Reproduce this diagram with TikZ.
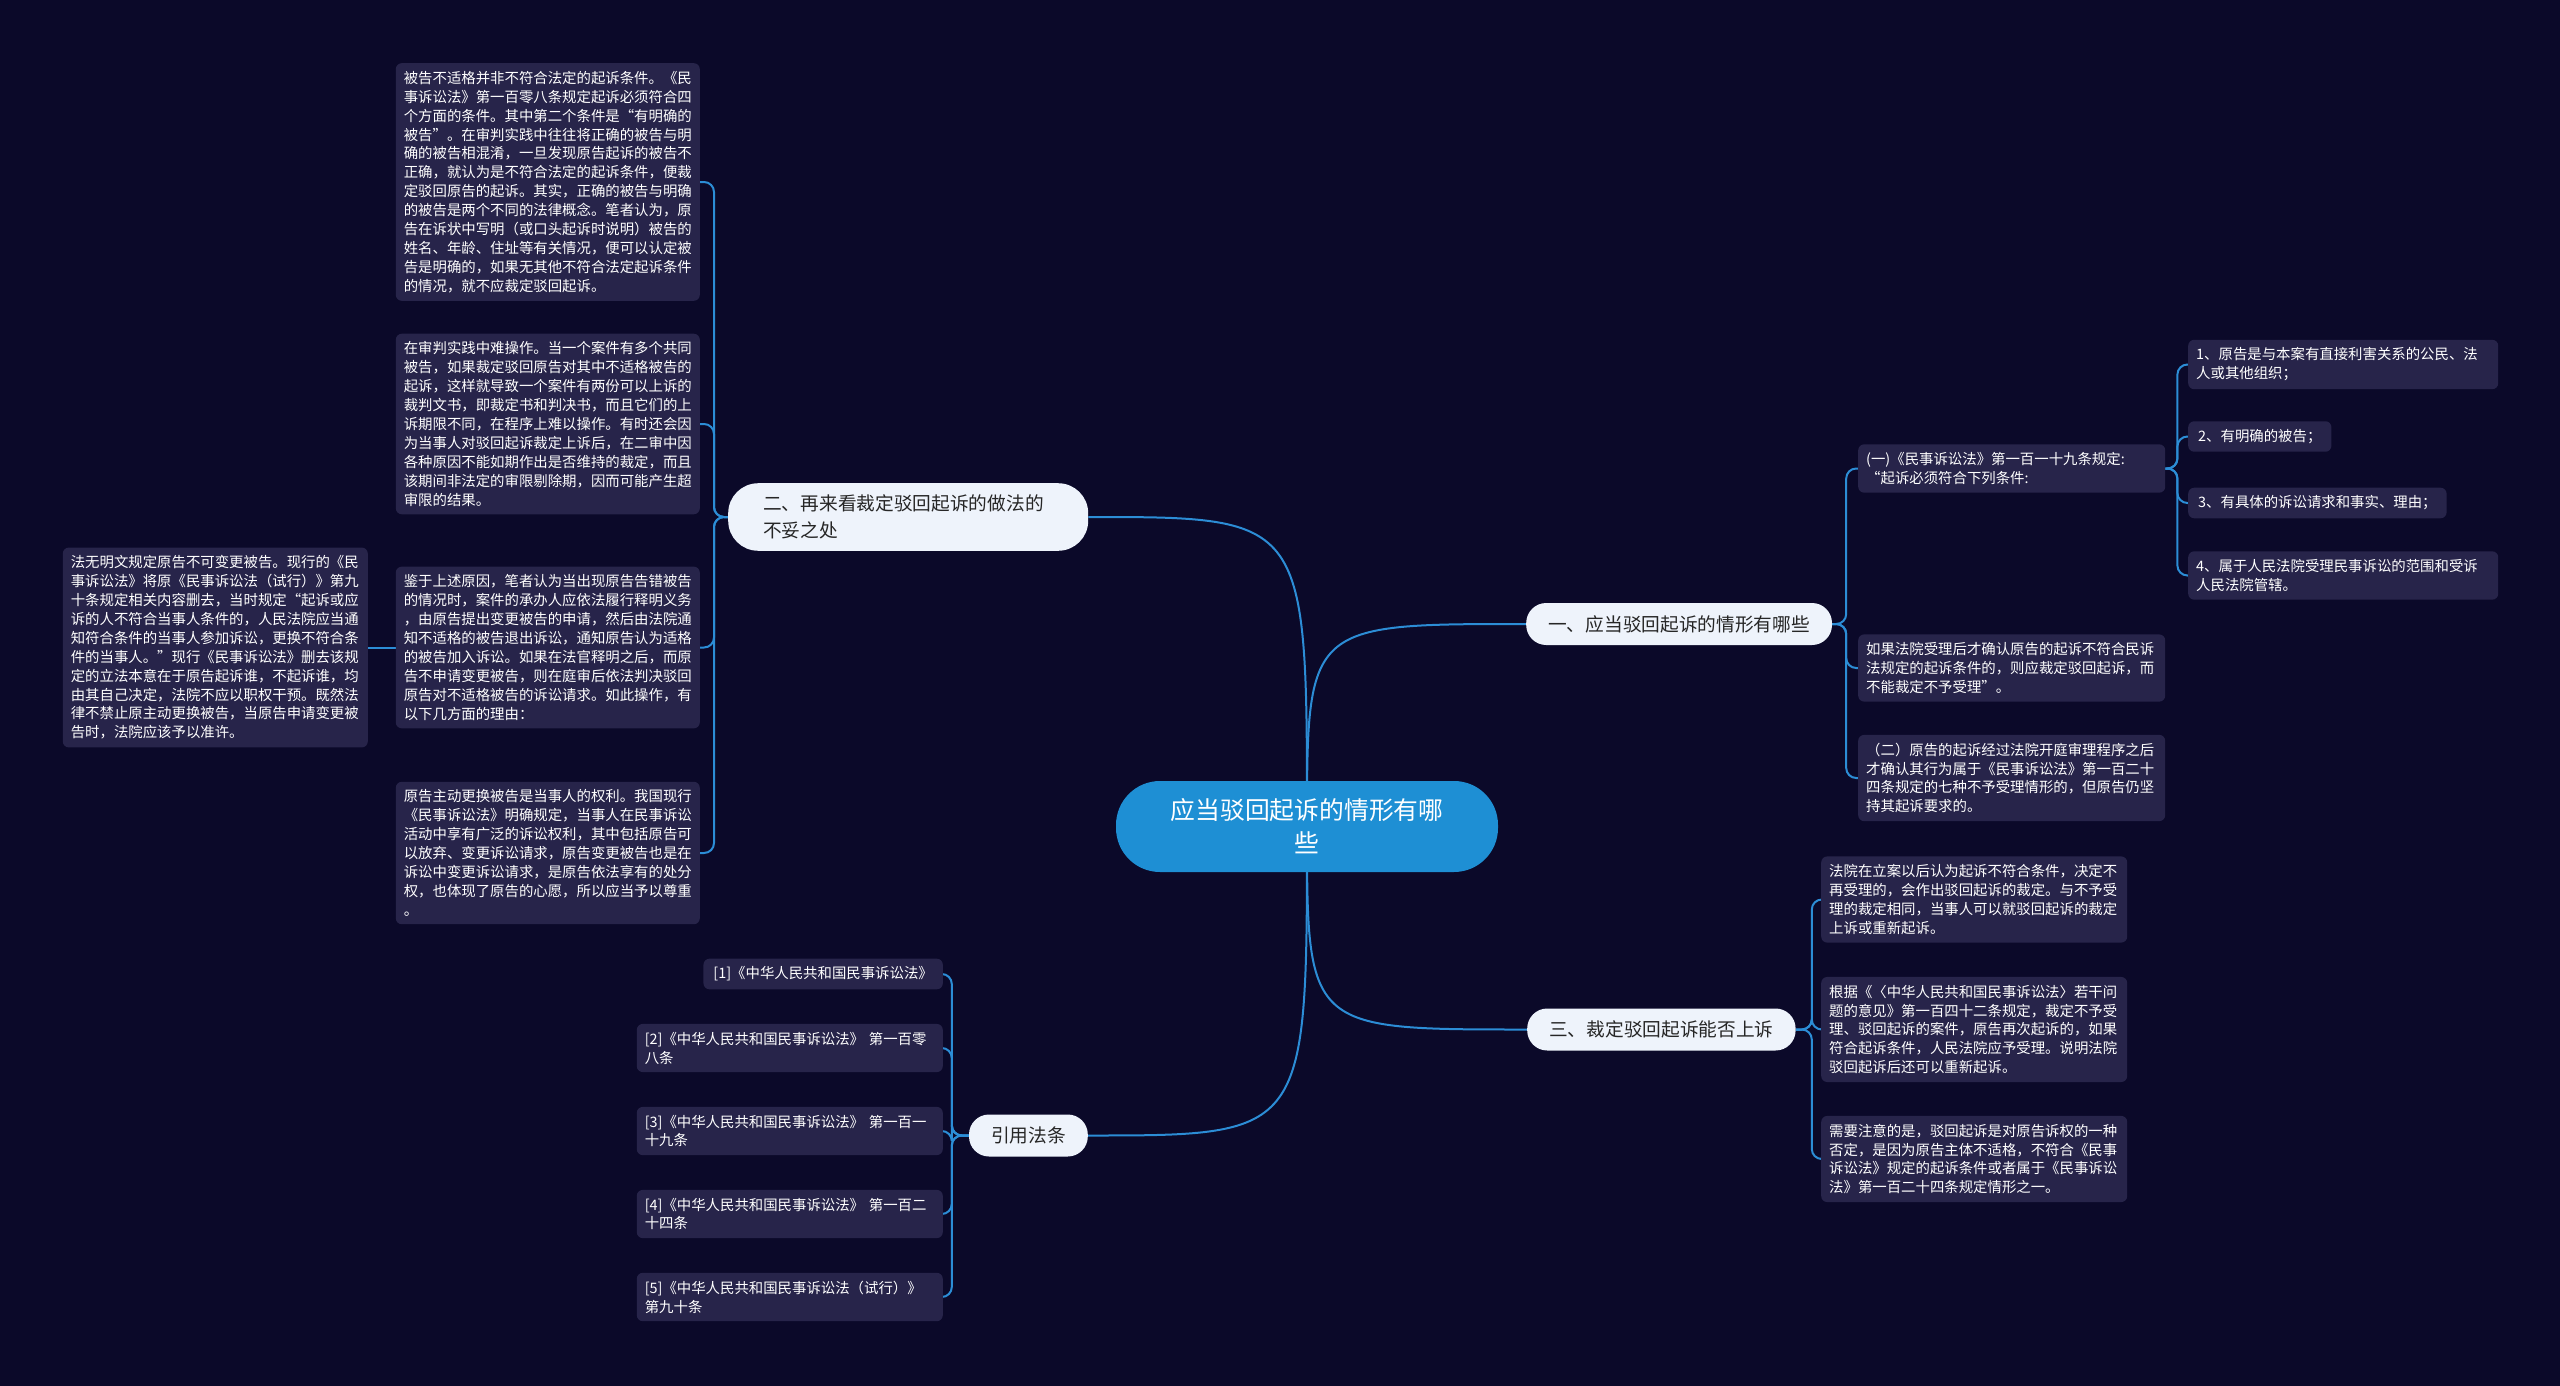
\documentclass[tikz,border=0pt]{standalone}
\usepackage{fontspec}
\usepackage{tikz}
\usetikzlibrary{backgrounds}
\newfontfamily\cjkfont{Noto Sans CJK SC}
\definecolor{bgnavy}{HTML}{0B0929}
\definecolor{leafbg}{HTML}{27244A}
\definecolor{topicbg}{HTML}{EEF3FB}
\definecolor{rootbg}{HTML}{1E8FD4}
\definecolor{linkblue}{HTML}{2C8DD6}

\begin{document}
\begin{tikzpicture}[x=1pt,y=-1pt,
	link/.style={draw=linkblue, line width=2pt, rounded corners=10pt},
	root/.style={fill=rootbg, text=white, rounded corners=44pt, minimum height=91pt, minimum width=382pt, inner ysep=0pt, align=center, font=\cjkfont\fontsize{24.8}{33}\selectfont},
	topic/.style={fill=topicbg, text=black!85, rounded corners=20pt, minimum height=42pt, inner xsep=22pt, inner ysep=11.6pt, align=left, font=\cjkfont\fontsize{18.7}{27}\selectfont},
	leaf/.style={fill=leafbg, text=white, rounded corners=6pt, inner xsep=8pt, inner ysep=8pt, align=left, font=\cjkfont\fontsize{14.4}{18.9}\selectfont}]
	\useasboundingbox (0,0) rectangle (2560,1386);

	\node[root] (root) at (1307,826.5) {应当驳回起诉的情形有哪\\些};
	\node[topic, anchor=west] (one) at (1526,624) {一、应当驳回起诉的情形有哪些};
	\node[topic, anchor=west, text width=290pt, inner xsep=35pt, rounded corners=30pt] (two) at (728,517) {二、再来看裁定驳回起诉的做法的\\不妥之处};
	\node[topic, anchor=west] (three) at (1527,1029.5) {三、裁定驳回起诉能否上诉};
	\node[topic, anchor=east] (refs) at (1088,1135.5) {引用法条};

	% left branch
	\node[leaf, anchor=east, text width=288pt] (lfa) at (700,182) {被告不适格并非不符合法定的起诉条件。《民\\事诉讼法》第一百零八条规定起诉必须符合四\\个方面的条件。其中第二个条件是“有明确的\\被告”。在审判实践中往往将正确的被告与明\\确的被告相混淆，一旦发现原告起诉的被告不\\正确，就认为是不符合法定的起诉条件，便裁\\定驳回原告的起诉。其实，正确的被告与明确\\的被告是两个不同的法律概念。笔者认为，原\\告在诉状中写明（或口头起诉时说明）被告的\\姓名、年龄、住址等有关情况，便可以认定被\\告是明确的，如果无其他不符合法定起诉条件\\的情况，就不应裁定驳回起诉。};
	\node[leaf, anchor=east, text width=288pt] (lfb) at (700,424) {在审判实践中难操作。当一个案件有多个共同\\被告，如果裁定驳回原告对其中不适格被告的\\起诉，这样就导致一个案件有两份可以上诉的\\裁判文书，即裁定书和判决书，而且它们的上\\诉期限不同，在程序上难以操作。有时还会因\\为当事人对驳回起诉裁定上诉后，在二审中因\\各种原因不能如期作出是否维持的裁定，而且\\该期间非法定的审限剔除期，因而可能产生超\\审限的结果。};
	\node[leaf, anchor=east, text width=288pt] (lfc) at (700,647.5) {鉴于上述原因，笔者认为当出现原告告错被告\\的情况时，案件的承办人应依法履行释明义务\\，由原告提出变更被告的申请，然后由法院通\\知不适格的被告退出诉讼，通知原告认为适格\\的被告加入诉讼。如果在法官释明之后，而原\\告不申请变更被告，则在庭审后依法判决驳回\\原告对不适格被告的诉讼请求。如此操作，有\\以下几方面的理由：};
	\node[leaf, anchor=east, text width=288pt] (lfd) at (700,853) {原告主动更换被告是当事人的权利。我国现行\\《民事诉讼法》明确规定，当事人在民事诉讼\\活动中享有广泛的诉讼权利，其中包括原告可\\以放弃、变更诉讼请求，原告变更被告也是在\\诉讼中变更诉讼请求，是原告依法享有的处分\\权，也体现了原告的心愿，所以应当予以尊重\\。};
	\node[leaf, anchor=east, text width=289pt] (lfe) at (368,647.5) {法无明文规定原告不可变更被告。现行的《民\\事诉讼法》将原《民事诉讼法（试行）》第九\\十条规定相关内容删去，当时规定“起诉或应\\诉的人不符合当事人条件的，人民法院应当通\\知符合条件的当事人参加诉讼，更换不符合条\\件的当事人。”现行《民事诉讼法》删去该规\\定的立法本意在于原告起诉谁，不起诉谁，均\\由其自己决定，法院不应以职权干预。既然法\\律不禁止原主动更换被告，当原告申请变更被\\告时，法院应该予以准许。};

	% right branch
	\node[leaf, anchor=west, text width=291pt] (suba) at (1858,468.5) {(一)《民事诉讼法》第一百一十九条规定:\\“起诉必须符合下列条件:};
	\node[leaf, anchor=west, text width=291pt] (subb) at (1858,668) {如果法院受理后才确认原告的起诉不符合民诉\\法规定的起诉条件的，则应裁定驳回起诉，而\\不能裁定不予受理”。};
	\node[leaf, anchor=west, text width=291pt] (subc) at (1858,778) {（二）原告的起诉经过法院开庭审理程序之后\\才确认其行为属于《民事诉讼法》第一百二十\\四条规定的七种不予受理情形的，但原告仍坚\\持其起诉要求的。};
	\node[leaf, anchor=west, text width=294pt, inner xsep=8pt] (cnda) at (2188,364.5) {1、原告是与本案有直接利害关系的公民、法\\人或其他组织；};
	\node[leaf, anchor=west, inner xsep=10pt] (cndb) at (2188,436.5) {2、有明确的被告；};
	\node[leaf, anchor=west, inner xsep=10pt] (cndc) at (2188,503) {3、有具体的诉讼请求和事实、理由；};
	\node[leaf, anchor=west, text width=294pt, inner xsep=8pt] (cndd) at (2188,575.5) {4、属于人民法院受理民事诉讼的范围和受诉\\人民法院管辖。};

	\node[leaf, anchor=west, text width=290pt] (apla) at (1821,899.5) {法院在立案以后认为起诉不符合条件，决定不\\再受理的，会作出驳回起诉的裁定。与不予受\\理的裁定相同，当事人可以就驳回起诉的裁定\\上诉或重新起诉。};
	\node[leaf, anchor=west, text width=290pt] (aplb) at (1821,1029.5) {根据《〈中华人民共和国民事诉讼法〉若干问\\题的意见》第一百四十二条规定，裁定不予受\\理、驳回起诉的案件，原告再次起诉的，如果\\符合起诉条件，人民法院应予受理。说明法院\\驳回起诉后还可以重新起诉。};
	\node[leaf, anchor=west, text width=290pt] (aplc) at (1821,1159) {需要注意的是，驳回起诉是对原告诉权的一种\\否定，是因为原告主体不适格，不符合《民事\\诉讼法》规定的起诉条件或者属于《民事诉讼\\法》第一百二十四条规定情形之一。};

	% references
	\node[leaf, anchor=east, inner xsep=10pt] (rfa) at (943,974) {[1]《中华人民共和国民事诉讼法》};
	\node[leaf, anchor=east, text width=290pt] (rfb) at (943,1048) {[2]《中华人民共和国民事诉讼法》 第一百零\\八条};
	\node[leaf, anchor=east, text width=290pt] (rfc) at (943,1131) {[3]《中华人民共和国民事诉讼法》 第一百一\\十九条};
	\node[leaf, anchor=east, text width=290pt] (rfd) at (943,1214) {[4]《中华人民共和国民事诉讼法》 第一百二\\十四条};
	\node[leaf, anchor=east, text width=290pt] (rfe) at (943,1297) {[5]《中华人民共和国民事诉讼法（试行）》\\第九十条};

	\begin{scope}[on background layer]
		\fill[bgnavy] (0,0) rectangle (2560,1386);
		\draw[link] (root.center) .. controls (root.center |- one.west) .. (one.west);
		\draw[link] (root.center) .. controls (root.center |- two.east) .. (two.east);
		\draw[link] (root.center) .. controls (root.center |- three.west) .. (three.west);
		\draw[link] (root.center) .. controls (root.center |- refs.east) .. (refs.east);
		\foreach \n in {lfa,lfb,lfc,lfd}
			\draw[link] (two.west) -- ++(-14,0) |- (\n.east);
		\draw[link] (lfc.west) -- (lfe.east);
		\foreach \n in {suba,subb,subc}
			\draw[link] (one.east) -- ++(14,0) |- (\n.west);
		\foreach \n in {cnda,cndb,cndc,cndd}
			\draw[link] (suba.east) -- ++(12,0) |- (\n.west);
		\foreach \n in {apla,aplb,aplc}
			\draw[link] (three.east) -- ++(16,0) |- (\n.west);
		\foreach \n in {rfa,rfb,rfc,rfd,rfe}
			\draw[link] (refs.west) -- ++(-17,0) |- (\n.east);
	\end{scope}
\end{tikzpicture}
\end{document}
